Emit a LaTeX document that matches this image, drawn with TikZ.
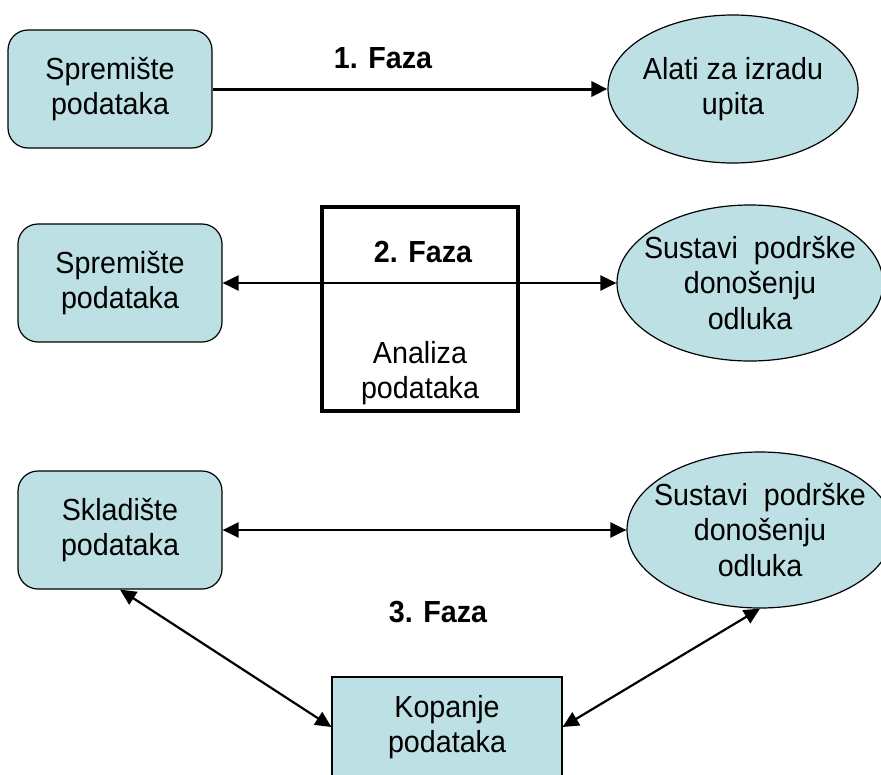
\documentclass[tikz,border=0pt]{standalone}
\usepackage{fontspec}
\setmainfont[FakeStretch=0.94]{Liberation Sans}
\usetikzlibrary{shapes.geometric,arrows.meta}
\definecolor{boxblue}{RGB}{189,224,228}

\begin{document}
\begin{tikzpicture}[
    x=1pt, y=-1pt,
    >={Triangle[length=16pt,width=15pt]},
    every node/.style = {
      align=center,
      inner sep=0pt,
      font=\fontsize{30.5}{35.5}\selectfont
    },
    store/.style = {
      shape=rectangle,
      rounded corners=20pt,
      draw,
      line width=1.2pt,
      fill=boxblue,
      minimum width=204pt,
      minimum height=118pt
    },
    tool/.style = {
      shape=ellipse,
      draw,
      line width=1.2pt,
      fill=boxblue,
      minimum width=266pt,
      minimum height=156pt
    },
    mine/.style = {
      shape=rectangle,
      draw,
      line width=1.2pt,
      fill=boxblue,
      minimum width=230pt,
      minimum height=100pt
    },
    phase/.style = {font=\fontsize{30.5}{35.5}\selectfont\bfseries},
    link/.style = {line width=2.2pt}
  ]

  \useasboundingbox (0,0) rectangle (881,774);

  \node[store] (spr1) at (110,89) {Spremište\\podataka};
  \node[tool, minimum width=250pt, minimum height=148pt,
        label={center:Alati za izradu\\upita}] (alati) at (733,89) {};
  \node[phase] (f1) at (383,58) {1. Faza};
  \draw[link, line width=3pt, ->] (spr1.east) -- (alati.west);

  \node[store] (spr2) at (120,283) {Spremište\\podataka};
  \node[draw, line width=4pt, minimum width=196pt, minimum height=204pt] (anl) at (420,309) {};
  \node[phase] (f2) at (423,252) {2. Faza};
  \node (anltxt) at (420,373) {Analiza\\podataka};
  \node[tool, label={center:Sustavi\ \ podrške\\donošenju\\odluka}] (sus2) at (750,283) {};
  \draw[link, <->] (spr2.east) -- (sus2.west);

  \node[store] (skl) at (120,530) {Skladište\\podataka};
  \node[tool, label={center:Sustavi\ \ podrške\\donošenju\\odluka}] (sus3) at (760,530) {};
  \node[phase] (f3) at (438,612) {3. Faza};
  \node[mine] (kop) at (447,727) {Kopanje\\podataka};
  \draw[link, <->] (skl.east) -- (sus3.west);
  \draw[link, <->] (skl.south) -- (kop.west);
  \draw[link, <->] (kop.east) -- (sus3.south);

\end{tikzpicture}
\end{document}
